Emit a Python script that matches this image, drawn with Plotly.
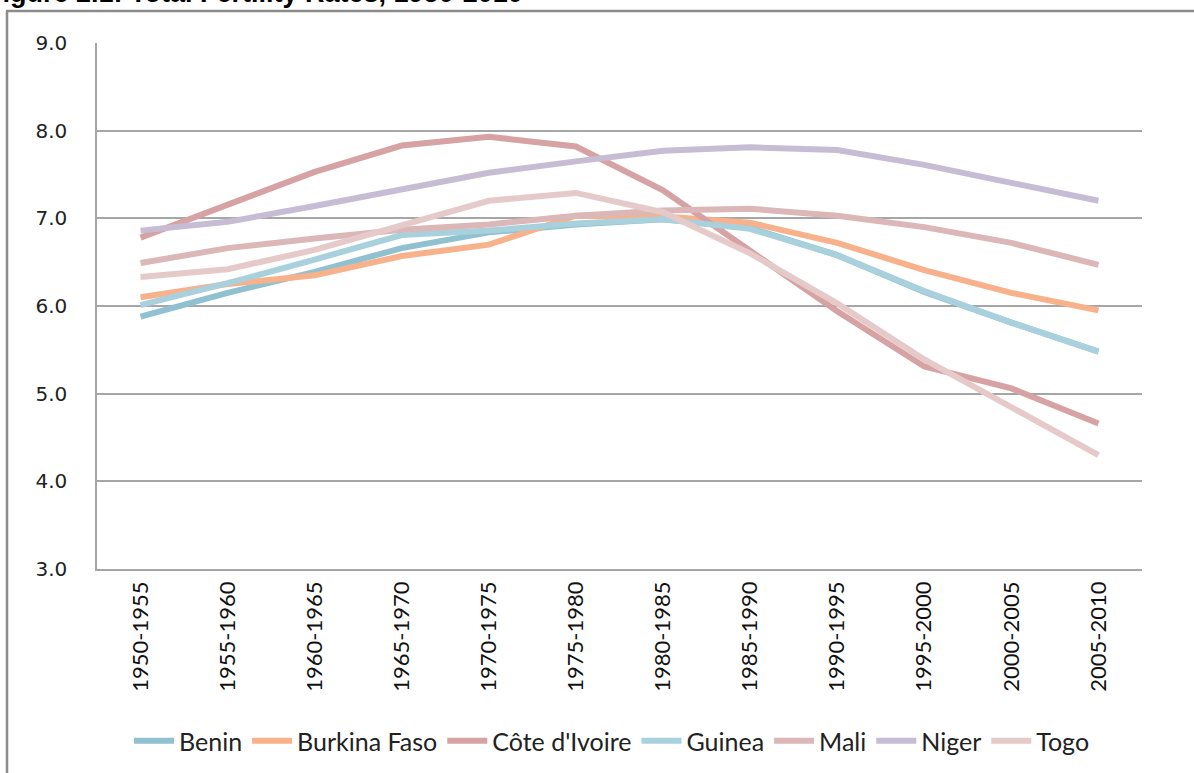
import plotly.graph_objects as go

categories = ["1950-1955", "1955-1960", "1960-1965", "1965-1970", "1970-1975", "1975-1980",
              "1980-1985", "1985-1990", "1990-1995", "1995-2000", "2000-2005", "2005-2010"]

benin = [5.88, 6.15, 6.39, 6.66, 6.84, 6.93, 6.99, 6.89, 6.58, 6.16, 5.81, 5.48]
burkina_faso = [6.10, 6.25, 6.35, 6.57, 6.70, 7.03, 7.02, 6.95, 6.72, 6.41, 6.15, 5.95]
cote_divoire = [6.78, 7.16, 7.53, 7.83, 7.93, 7.82, 7.32, 6.63, 5.94, 5.31, 5.06, 4.66]
guinea = [6.01, 6.26, 6.53, 6.81, 6.86, 6.94, 6.99, 6.88, 6.58, 6.17, 5.81, 5.48]
mali = [6.49, 6.66, 6.77, 6.87, 6.93, 7.03, 7.09, 7.11, 7.03, 6.90, 6.72, 6.47]
niger = [6.86, 6.96, 7.14, 7.33, 7.52, 7.65, 7.77, 7.81, 7.78, 7.61, 7.40, 7.20]
togo = [6.33, 6.42, 6.64, 6.92, 7.20, 7.29, 7.07, 6.60, 6.03, 5.39, 4.85, 4.30]

series_names = ["Benin", "Burkina Faso", "Côte d'Ivoire", "Guinea", "Mali", "Niger", "Togo"]
series_values = [benin, burkina_faso, cote_divoire, guinea, mali, niger, togo]
series_colors = ["#8fc1d1", "#f7b28c", "#d6a2a4", "#a8d1dd", "#dcb7b8", "#c6bdd4", "#e6caca"]

fig = go.Figure()
for name, vals, col in zip(series_names, series_values, series_colors):
    fig.add_trace(go.Scatter(x=categories, y=vals, name=name, mode="lines",
                             line=dict(color=col, width=6)))

W, H = 1194, 773
# plot area in page pixels: x 97..1142, y 43..569
L = 97
T = 43
R = W - 1142
B = H - 569
pw = W - L - R
ph = H - T - B

def px_x(p):
    return (p - L) / pw

def px_y(p):
    return (H - B - p) / ph

fig.update_layout(
    width=W, height=H,
    margin=dict(l=L, r=R, t=T, b=B, pad=0, autoexpand=False),
    paper_bgcolor="white", plot_bgcolor="white",
    showlegend=True,
    legend=dict(orientation="h", x=px_x(612), xanchor="center", y=px_y(741), yanchor="middle",
                font=dict(family="Lato", size=25, color="#222222"),
                itemwidth=40, tracegroupgap=0, bgcolor="rgba(0,0,0,0)"),
    xaxis=dict(type="category", range=[-0.5, 11.5], tickangle=-90, showgrid=False,
               showline=True, linecolor="#a6a6a6", linewidth=1.5, automargin=False,
               ticks="", tickfont=dict(family="Lato", size=22, color="#111111"),
               ticklabelstandoff=2),
    yaxis=dict(range=[3, 9], dtick=1, tickformat=".1f", showgrid=True, gridcolor="#a6a6a6",
               gridwidth=1.5, showline=True, linecolor="#a6a6a6", linewidth=1.5,
               ticks="", zeroline=False, automargin=False,
               tickfont=dict(family="DejaVu Sans", size=20, color="#222222"),
               ticklabelstandoff=24),
    shapes=[
        dict(type="line", xref="paper", yref="paper", x0=px_x(7), x1=px_x(7),
             y0=px_y(800), y1=px_y(11), line=dict(color="#8c8c8c", width=2.5)),
        dict(type="line", xref="paper", yref="paper", x0=px_x(6), x1=px_x(1220),
             y0=px_y(11), y1=px_y(11), line=dict(color="#8c8c8c", width=2.5)),
    ],
    annotations=[
        dict(text="<b>Figure 2.1: Total Fertility Rates, 1950-2010</b>", xref="paper", yref="paper",
             x=px_x(-16), xanchor="left", y=px_y(10), yanchor="bottom", showarrow=False,
             font=dict(family="Liberation Sans", size=27, color="#000000")),
    ],
)

fig.write_html("out.html", config={"displayModeBar": False},
               post_script="document.body.style.margin='0';")
